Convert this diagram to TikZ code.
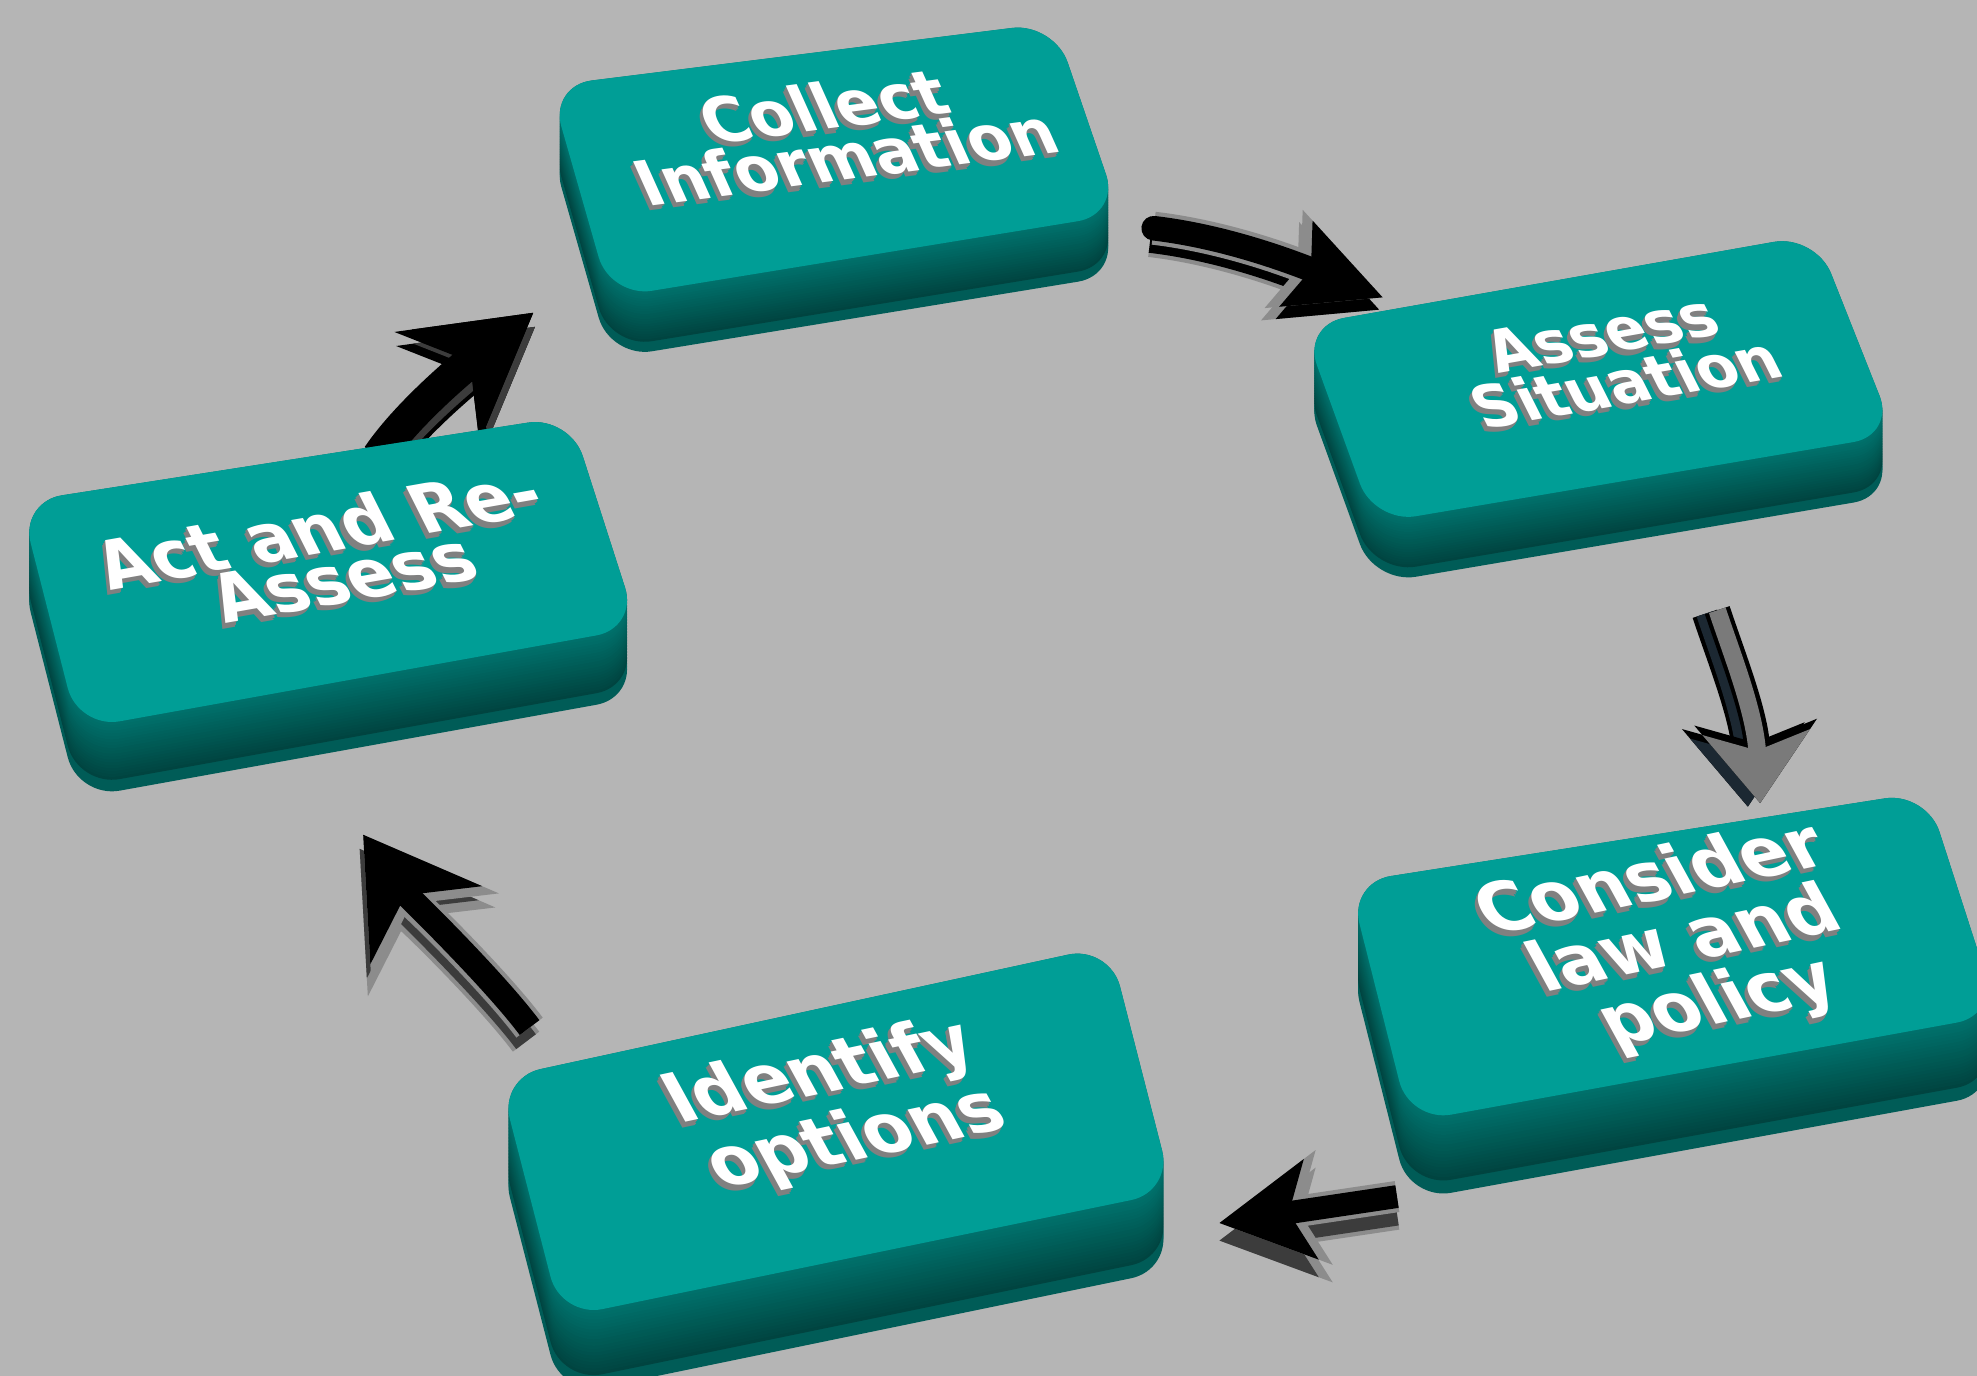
\documentclass[tikz,border=0pt]{standalone}
\usepackage{fontspec}
\newfontfamily\keyfont{DejaVu Sans}
\usetikzlibrary{arrows.meta}

\definecolor{bgC}{RGB}{181,181,181}
\definecolor{faceC}{RGB}{0,158,150}
\definecolor{sideC}{RGB}{0,124,118}
\definecolor{deepC}{RGB}{0,60,56}
\definecolor{shadeC}{RGB}{128,128,128}
\definecolor{rimC}{RGB}{140,140,140}
\definecolor{darkC}{RGB}{60,60,60}
\definecolor{navyC}{RGB}{28,40,50}
\definecolor{steelC}{RGB}{122,122,122}

\pgfdeclarelayer{bg}
\pgfdeclarelayer{flows}
\pgfsetlayers{bg,flows,main}

% keycap: top face corners TL, TR, BR, BL and depth of the side
\newcommand{\keycap}[5]{%
  \foreach \k in {24,...,0}{%
    \pgfmathtruncatemacro\mix{\k>20 ? 50 : 15+3.6*\k}%
    \fill[deepC!\mix!sideC, rounded corners=12pt, shift={(0,\k*#5/24)}] #1 -- #2 -- #3 -- #4 -- cycle;}
  \fill[faceC, rounded corners=12pt] #1 -- #2 -- #3 -- #4 -- cycle;}

% white label with grey extrusion: name, position, angle, font, text
\newcommand{\keylabel}[5]{%
  \foreach \s in {4,3,2,1}{%
    \node[shift={(-0.6*\s,1.1*\s)}, rotate=#3, keytxt, text=shadeC, font={#4}] at #2 {#5};}
  \node[rotate=#3, keytxt, font={#4}] (#1) at #2 {#5};}

\begin{document}
\begin{tikzpicture}[
    x=0.01261cm, y=-0.01261cm,
    keytxt/.style={text=white, align=center, inner sep=0pt, xslant=-0.3},
    % shaft width, tip, side shift, rim, side and top colours
    flow/.style n args={6}{
      preaction={draw=#4, line width=#1+2.4pt, -{Stealth[#2, scale=1.14]}, transform canvas={shift={(#3)}}},
      preaction={draw=#5, line width=#1, -{Stealth[#2]}, transform canvas={shift={(#3)}}},
      preaction={draw=#4, line width=#1+2.4pt, -{Stealth[#2, scale=1.14]}},
      draw=#6, line width=#1, -{Stealth[#2]}}
]

\useasboundingbox (0,0) rectangle (1568,1091);
\begin{pgfonlayer}{bg}
  \fill[bgC] (0,0) rectangle (1568,1091);
\end{pgfonlayer}

% the five keys
\keycap{(436,68)}{(836,18)}{(888,170)}{(484,236)}{48}
\keylabel{collect}{(662,104)}{7.5}{\keyfont\bfseries\fontsize{18}{15}\selectfont}{Collect\\Information}

\keycap{(1033,258)}{(1440,186)}{(1503,345)}{(1090,415)}{48}
\keylabel{assess}{(1280,284)}{10}{\keyfont\bfseries\fontsize{17}{15}\selectfont}{Assess\\Situation}

\keycap{(1070,700)}{(1528,628)}{(1585,805)}{(1118,890)}{62}
\keylabel{consider}{(1337,748)}{12}{\keyfont\bfseries\fontsize{20}{19}\selectfont}{Consider\\law and\\policy}

\keycap{(396,855)}{(880,750)}{(930,945)}{(445,1045)}{62}
\keylabel{identify}{(665,878)}{12}{\keyfont\bfseries\fontsize{20}{17.5}\selectfont}{Identify\\options}

\keycap{(16,398)}{(452,330)}{(506,498)}{(62,578)}{55}
\keylabel{act}{(262,438)}{10}{\keyfont\bfseries\fontsize{19.5}{15}\selectfont}{Act and Re-\\Assess}

% arrow ends
\coordinate (ci-out) at (915,181);
\coordinate (as-in) at (1097,236);
\coordinate (as-out) at (1362,484);
\coordinate (co-in) at (1396,637);
\coordinate (co-out) at (1108,949);
\coordinate (id-in) at (967,970);
\coordinate (id-out) at (420,815);
\coordinate (ac-in) at (288,662);
\coordinate (ac-out) at (300,362);
\coordinate (ci-in) at (423,248);

\begin{pgfonlayer}{flows}
\draw[flow={7pt}{length=26pt,width=25pt,inset=4pt}{-1pt,-3.5pt}{rimC}{black}{black}, line cap=round]
  (ci-out) .. controls (975,188) and (1030,210) .. (as-in);
\draw[flow={5pt}{length=20pt,width=30pt,inset=5pt}{-3.5pt,-1pt}{black}{navyC}{steelC}]
  (as-out) .. controls (1374,520) and (1392,565) .. (co-in);
\draw[flow={6.5pt}{length=26pt,width=28pt,inset=6pt}{0pt,-5pt}{rimC}{darkC}{black}]
  (co-out) -- (id-in);
\draw[flow={7pt}{length=31pt,width=38pt,inset=10pt}{-1pt,-4pt}{rimC}{darkC}{black}]
  (id-out) .. controls (390,775) and (318,705) .. (ac-in);
\draw[flow={7pt}{length=30pt,width=34pt,inset=10pt}{0.5pt,-4pt}{black}{darkC}{black}]
  (ac-out) .. controls (325,325) and (375,285) .. (ci-in);
\end{pgfonlayer}

\end{tikzpicture}
\end{document}
